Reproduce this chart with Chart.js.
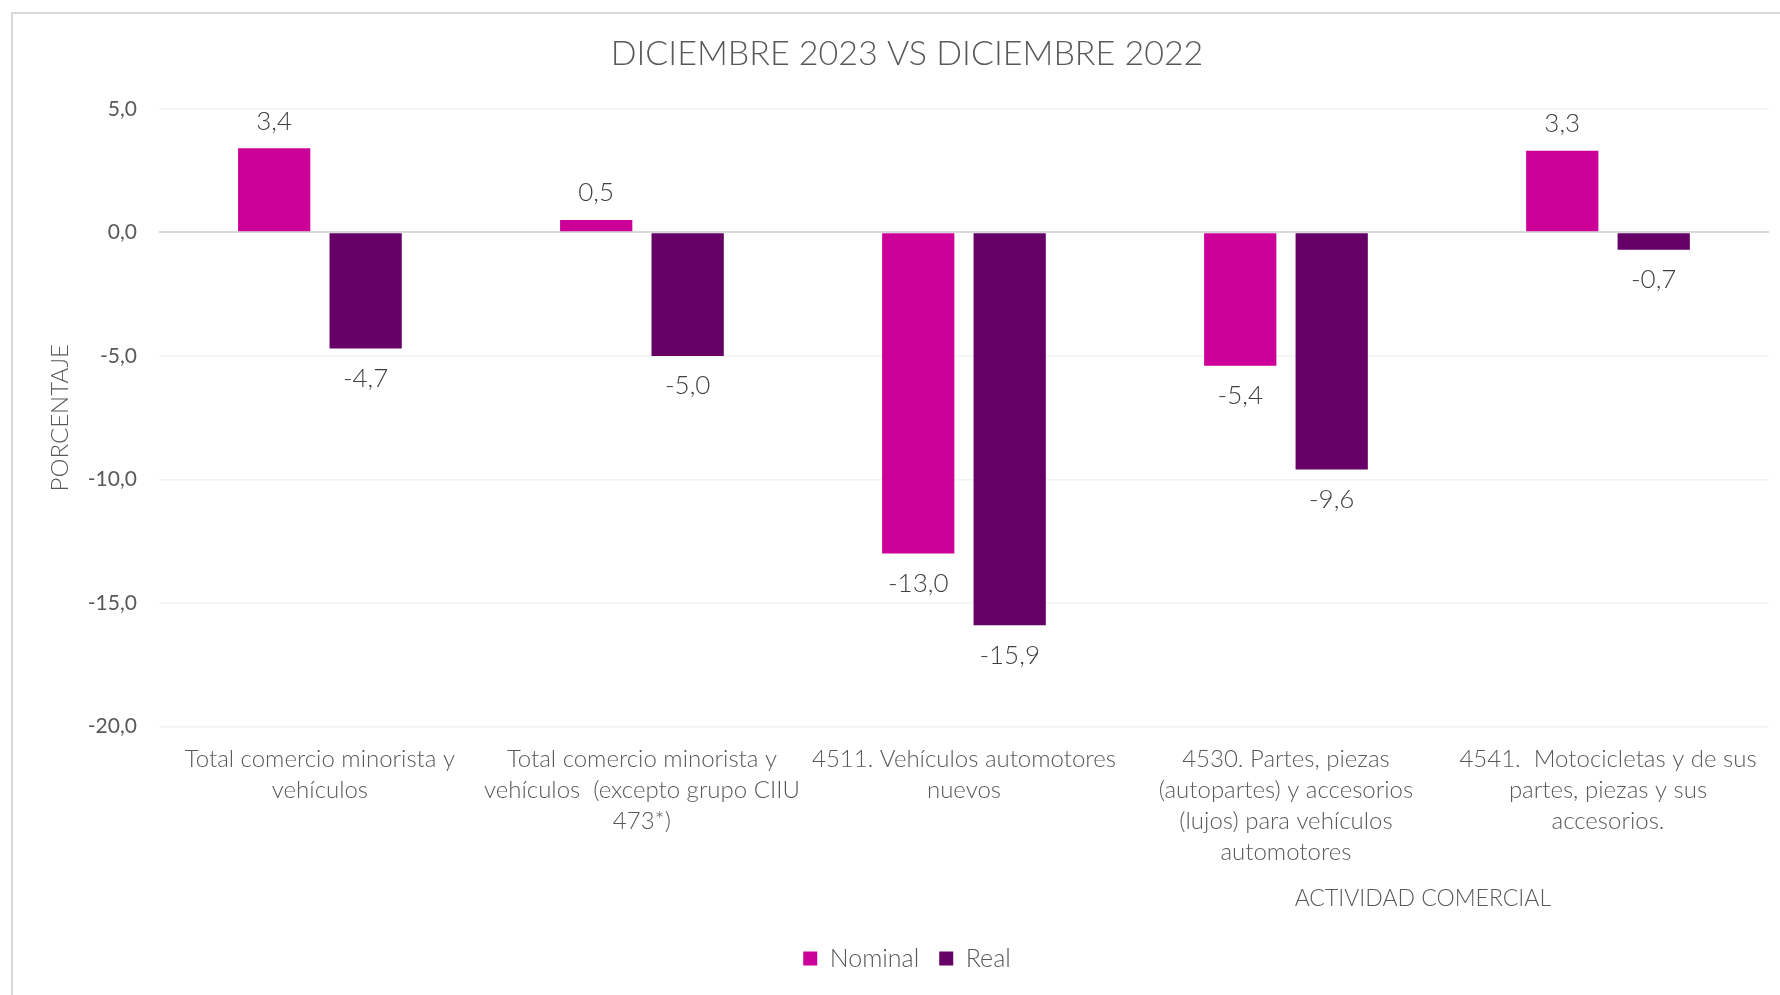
<!DOCTYPE html>
<html>
<head>
<meta charset="utf-8">
<script src="https://cdn.jsdelivr.net/npm/chart.js@4"></script>
<style>
  html, body { margin: 0; padding: 0; background: #fff; overflow: hidden; }
  #frame {
    position: absolute; left: 11px; top: 12px;
    width: 1788px; height: 1000px;
    border: 2px solid #D9D9D9; box-sizing: border-box;
  }
  #wrap { position: relative; width: 1784px; height: 996px; }
</style>
</head>
<body>
<div id="frame"><div id="wrap"><canvas id="chart__bars"></canvas></div></div>
<script>
// Categories (already split in lines like the original)
const categories = [
  ['Total comercio minorista y', 'vehículos'],
  ['Total comercio minorista y', 'vehículos  (excepto grupo CIIU', '473*)'],
  ['4511. Vehículos automotores', 'nuevos'],
  ['4530. Partes, piezas', '(autopartes) y accesorios', '(lujos) para vehículos', 'automotores'],
  ['4541.  Motocicletas y de sus', 'partes, piezas y sus', 'accesorios.']
];
const nominal = [3.4, 0.5, -13.0, -5.4, 3.3];
const real = [-4.7, -5.0, -15.9, -9.6, -0.7];
const yTicks = [5, 0, -5, -10, -15, -20];

(() => {
  const ctx = document.querySelector('#chart__bars');
  const fmt = (v) => v.toFixed(1).replace('.', ',');
  const xTitlePadBottom = 14;

  // value labels above / below each bar
  const valueLabels = {
    id: 'valueLabels',
    afterDatasetsDraw(chart) {
      const c = chart.ctx;
      c.save();
      c.font = '300 26px Lato';
      c.fillStyle = '#404040';
      c.textAlign = 'center';
      c.textBaseline = 'middle';
      chart.data.datasets.forEach((ds, i) => {
        chart.getDatasetMeta(i).data.forEach((bar, j) => {
          const v = ds.data[j];
          const y = v >= 0 ? bar.y - 27 : bar.y + 30;
          c.fillText(fmt(v), bar.x, y);
        });
      });
      c.restore();
    }
  };

  // x axis title sits right of centre in the original
  const xTitle = {
    id: 'xTitle',
    afterDraw(chart) {
      const x = chart.scales.x;
      const area = chart.chartArea;
      const c = chart.ctx;
      c.save();
      c.font = '300 23px Lato';
      c.fillStyle = '#595959';
      c.textAlign = 'center';
      c.textBaseline = 'middle';
      c.fillText('ACTIVIDAD COMERCIAL', area.left + (area.right - area.left) * 0.785, x.bottom - xTitlePadBottom - 13.8);
      c.restore();
    }
  };

  new Chart(ctx, {
    type: 'bar',
    data: {
      labels: categories,
      datasets: [
        {
          label: 'Nominal',
          data: nominal,
          backgroundColor: '#CC0099',
          categoryPercentage: 0.568,
          barPercentage: 0.79
        },
        {
          label: 'Real',
          data: real,
          backgroundColor: '#660066',
          categoryPercentage: 0.568,
          barPercentage: 0.79
        }
      ]
    },
    options: {
      responsive: true,
      maintainAspectRatio: false,
      animation: false,
      layout: { padding: { left: 32, right: 28, top: 10, bottom: 29 } },
      plugins: {
        title: {
          display: true,
          text: 'DICIEMBRE 2023 VS DICIEMBRE 2022',
          color: '#595959',
          font: { family: 'Lato', size: 34, weight: '300', lineHeight: 1.2 },
          padding: { top: 10, bottom: 34 }
        },
        legend: {
          position: 'bottom',
          labels: {
            color: '#595959',
            font: { family: 'Lato', size: 25, weight: '300' },
            boxWidth: 14,
            boxHeight: 14,
            padding: 20
          }
        },
        tooltip: { enabled: false }
      },
      scales: {
        x: {
          grid: { display: false, drawTicks: false },
          border: { display: false },
          ticks: {
            color: '#595959',
            font: { family: 'Lato', size: 24, weight: '300', lineHeight: 1.29 },
            padding: 17,
            maxRotation: 0,
            autoSkip: false
          },
          title: {
            display: true,
            text: 'ACTIVIDAD COMERCIAL',
            color: 'rgba(0,0,0,0)',
            font: { family: 'Lato', size: 23, weight: '300', lineHeight: 1.2 },
            padding: { top: 0, bottom: xTitlePadBottom }
          }
        },
        y: {
          min: Math.min(...yTicks),
          max: Math.max(...yTicks),
          afterBuildTicks: (scale) => { scale.ticks = yTicks.map((v) => ({ value: v })); },
          border: { display: false },
          grid: {
            drawTicks: false,
            color: (c) => c.tick && c.tick.value === 0 ? '#D9D9D9' : '#F2F2F2',
            lineWidth: (c) => c.tick && c.tick.value === 0 ? 2 : 1.5
          },
          ticks: {
            color: '#595959',
            font: { family: 'Lato', size: 21 },
            padding: 22,
            callback: (v) => fmt(v)
          },
          title: {
            display: true,
            text: 'PORCENTAJE',
            color: '#595959',
            font: { family: 'Lato', size: 24, weight: '300', lineHeight: 1.2 },
            padding: { top: 1, bottom: -9 }
          }
        }
      }
    },
    plugins: [valueLabels, xTitle]
  });
})();
</script>
</body>
</html>
